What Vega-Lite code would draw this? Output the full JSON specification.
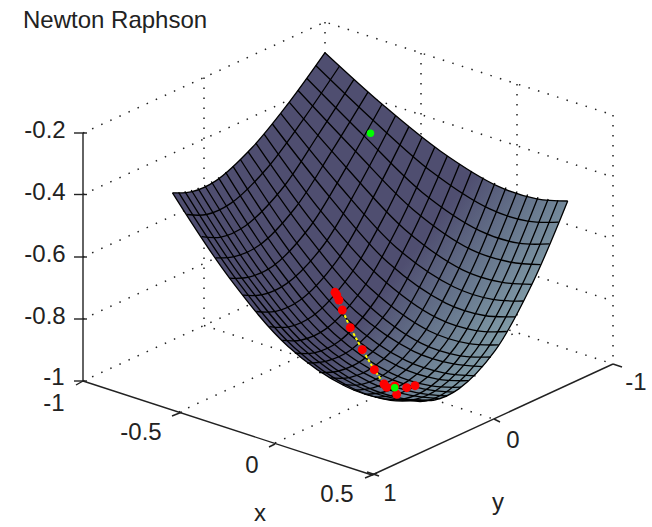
{"$schema":"https://vega.github.io/schema/vega-lite/v6.json","width":652,"height":527,"padding":0,"autosize":"none","background":"white","config":{"view":{"stroke":null}},"datasets":{"heading":[{"t":"Newton Raphson","u":23,"v":28}],"grid":[{"l":"z1","u":83,"v":133},{"l":"z1","u":325,"v":22},{"l":"z1","u":613,"v":115},{"l":"z2","u":83,"v":194.5},{"l":"z2","u":325,"v":83.5},{"l":"z2","u":613,"v":177},{"l":"z3","u":83,"v":257},{"l":"z3","u":325,"v":146},{"l":"z3","u":613,"v":239},{"l":"z4","u":83,"v":319},{"l":"z4","u":325,"v":208},{"l":"z4","u":613,"v":301},{"l":"v1","u":204,"v":77.5},{"l":"v1","u":204,"v":325},{"l":"v2","u":325,"v":22},{"l":"v2","u":325,"v":270},{"l":"v3","u":421,"v":53},{"l":"v3","u":421,"v":301},{"l":"v4","u":517,"v":84},{"l":"v4","u":517,"v":332},{"l":"v5","u":613,"v":115},{"l":"v5","u":613,"v":364},{"l":"f1","u":83,"v":381},{"l":"f1","u":325,"v":270},{"l":"f1","u":613,"v":364},{"l":"f2","u":179,"v":412},{"l":"f2","u":421,"v":301},{"l":"f3","u":275,"v":443},{"l":"f3","u":517,"v":332},{"l":"f4","u":204,"v":325.5},{"l":"f4","u":492,"v":418.5}],"axes":[{"l":"az","u":83,"v":133},{"l":"az","u":83,"v":381},{"l":"ax","u":83,"v":381},{"l":"ax","u":372,"v":475},{"l":"ay","u":372,"v":475},{"l":"ay","u":613,"v":364},{"l":"t1","u":74,"v":133},{"l":"t1","u":87,"v":133},{"l":"t2","u":74,"v":194.5},{"l":"t2","u":87,"v":194.5},{"l":"t3","u":74,"v":257},{"l":"t3","u":87,"v":257},{"l":"t4","u":74,"v":319},{"l":"t4","u":87,"v":319},{"l":"t5","u":74,"v":381},{"l":"t5","u":87,"v":381},{"l":"t6","u":76,"v":385},{"l":"t6","u":83,"v":381},{"l":"t7","u":172,"v":416},{"l":"t7","u":182,"v":412},{"l":"t8","u":269,"v":447},{"l":"t8","u":275,"v":444},{"l":"t9","u":365,"v":478},{"l":"t9","u":377,"v":473},{"l":"t10","u":367,"v":472},{"l":"t10","u":379,"v":476},{"l":"t11","u":494,"v":419},{"l":"t11","u":500,"v":422},{"l":"t12","u":613,"v":364},{"l":"t12","u":622,"v":367}],"labels":[{"t":"-0.2","u":45,"v":131},{"t":"-0.4","u":45,"v":193},{"t":"-0.6","u":45,"v":255},{"t":"-0.8","u":45,"v":317},{"t":"-1","u":54,"v":378},{"t":"-1","u":54,"v":404},{"t":"-0.5","u":141,"v":433},{"t":"0","u":252,"v":466},{"t":"0.5","u":337,"v":495},{"t":"1","u":390,"v":494},{"t":"0","u":513,"v":441},{"t":"-1","u":636,"v":383},{"t":"x","u":260,"v":514},{"t":"y","u":498,"v":503}],"skin":[{"u":325,"v":52.7},{"u":288.7,"v":102.9},{"u":252.4,"v":147.3},{"u":216.1,"v":180.6},{"u":191.9,"v":191.7},{"u":172.5,"v":192.8},{"u":172.5,"v":192.8},{"u":230.3,"v":279.1},{"u":288.1,"v":346.4},{"u":345.8,"v":386.5},{"u":384.4,"v":398.9},{"u":415.2,"v":399.7},{"u":415.2,"v":399.7},{"u":434.6,"v":400},{"u":458.8,"v":388.9},{"u":495.1,"v":350.7},{"u":531.4,"v":285.4},{"u":567.7,"v":201},{"u":567.7,"v":201},{"u":536.9,"v":198.8},{"u":498.3,"v":186.4},{"u":440.6,"v":151.2},{"u":382.8,"v":104.8},{"u":325,"v":52.7},{"u":325,"v":52.7}],"mesh":[
{"l":"a0","u":325,"v":52.7},{"l":"a0","u":288.7,"v":102.9},{"l":"a0","u":252.4,"v":147.3},{"l":"a0","u":216.1,"v":180.6},{"l":"a0","u":191.9,"v":191.7},{"l":"a0","u":172.5,"v":192.8},
{"l":"a1","u":339.6,"v":66},{"l":"a1","u":303.3,"v":119.3},{"l":"a1","u":267,"v":168.2},{"l":"a1","u":230.7,"v":203.4},{"l":"a1","u":206.5,"v":214.5},{"l":"a1","u":187.1,"v":214.5},
{"l":"a2","u":354.1,"v":79.2},{"l":"a2","u":317.8,"v":135.5},{"l":"a2","u":281.5,"v":189.5},{"l":"a2","u":245.2,"v":226},{"l":"a2","u":221,"v":237.1},{"l":"a2","u":201.6,"v":236.6},
{"l":"a3","u":368.1,"v":91.8},{"l":"a3","u":331.8,"v":151.1},{"l":"a3","u":295.5,"v":207.5},{"l":"a3","u":259.2,"v":245.3},{"l":"a3","u":235,"v":256.4},{"l":"a3","u":215.6,"v":257.9},
{"l":"a4","u":382,"v":104.2},{"l":"a4","u":345.7,"v":168.3},{"l":"a4","u":309.4,"v":227.5},{"l":"a4","u":273.1,"v":266},{"l":"a4","u":248.9,"v":277.1},{"l":"a4","u":229.5,"v":278.1},
{"l":"a5","u":395.5,"v":115.8},{"l":"a5","u":359.2,"v":185},{"l":"a5","u":322.9,"v":246},{"l":"a5","u":286.6,"v":283.6},{"l":"a5","u":262.4,"v":294.7},{"l":"a5","u":243,"v":295.2},
{"l":"a6","u":408.8,"v":126.9},{"l":"a6","u":372.5,"v":198.6},{"l":"a6","u":336.2,"v":261.6},{"l":"a6","u":299.9,"v":300.2},{"l":"a6","u":275.7,"v":311.3},{"l":"a6","u":256.3,"v":311.5},
{"l":"a7","u":421.9,"v":137.4},{"l":"a7","u":385.6,"v":213.8},{"l":"a7","u":349.3,"v":276.1},{"l":"a7","u":313,"v":315.7},{"l":"a7","u":288.8,"v":326.8},{"l":"a7","u":269.4,"v":326.6},
{"l":"a8","u":434.8,"v":147.1},{"l":"a8","u":398.5,"v":225.5},{"l":"a8","u":362.2,"v":289.4},{"l":"a8","u":325.9,"v":328.9},{"l":"a8","u":301.7,"v":340},{"l":"a8","u":282.3,"v":340.4},
{"l":"a9","u":447.3,"v":156},{"l":"a9","u":411,"v":236.1},{"l":"a9","u":374.7,"v":301.5},{"l":"a9","u":338.4,"v":341.8},{"l":"a9","u":314.2,"v":352.9},{"l":"a9","u":294.8,"v":353},
{"l":"a10","u":459.6,"v":164},{"l":"a10","u":423.3,"v":247.5},{"l":"a10","u":387,"v":312.2},{"l":"a10","u":350.7,"v":350},{"l":"a10","u":326.5,"v":361.1},{"l":"a10","u":307.1,"v":363},
{"l":"a11","u":471.6,"v":171.1},{"l":"a11","u":435.3,"v":255.9},{"l":"a11","u":399,"v":321.5},{"l":"a11","u":362.7,"v":359.9},{"l":"a11","u":338.5,"v":371},{"l":"a11","u":319.1,"v":372.6},
{"l":"a12","u":483.3,"v":177.5},{"l":"a12","u":447,"v":263.1},{"l":"a12","u":410.7,"v":328.5},{"l":"a12","u":374.4,"v":366.3},{"l":"a12","u":350.2,"v":377.4},{"l":"a12","u":330.8,"v":377.9},
{"l":"a13","u":494.9,"v":183},{"l":"a13","u":458.6,"v":269.3},{"l":"a13","u":422.3,"v":335.2},{"l":"a13","u":386,"v":373.2},{"l":"a13","u":361.8,"v":384.3},{"l":"a13","u":342.4,"v":384.7},
{"l":"a14","u":506,"v":187.6},{"l":"a14","u":469.7,"v":274.3},{"l":"a14","u":433.4,"v":340.5},{"l":"a14","u":397.1,"v":376.7},{"l":"a14","u":372.9,"v":387.8},{"l":"a14","u":353.5,"v":390.1},
{"l":"a15","u":517,"v":191.5},{"l":"a15","u":480.7,"v":278.3},{"l":"a15","u":444.4,"v":344.6},{"l":"a15","u":408.1,"v":380.9},{"l":"a15","u":383.9,"v":392},{"l":"a15","u":364.5,"v":394.3},
{"l":"a16","u":527.6,"v":194.6},{"l":"a16","u":491.3,"v":281.3},{"l":"a16","u":455,"v":347.5},{"l":"a16","u":418.7,"v":383.8},{"l":"a16","u":394.5,"v":394.9},{"l":"a16","u":375.1,"v":397.2},
{"l":"a17","u":538,"v":197.2},{"l":"a17","u":501.7,"v":283.5},{"l":"a17","u":465.4,"v":349.5},{"l":"a17","u":429.1,"v":387.6},{"l":"a17","u":404.9,"v":398.7},{"l":"a17","u":385.5,"v":399.1},
{"l":"a18","u":548.2,"v":199},{"l":"a18","u":511.9,"v":284.9},{"l":"a18","u":475.6,"v":350.4},{"l":"a18","u":439.3,"v":388.3},{"l":"a18","u":415.1,"v":399.4},{"l":"a18","u":395.7,"v":399.9},
{"l":"a19","u":558,"v":200.2},{"l":"a19","u":521.7,"v":285.5},{"l":"a19","u":485.4,"v":351.4},{"l":"a19","u":449.1,"v":390},{"l":"a19","u":424.9,"v":401.1},{"l":"a19","u":405.5,"v":399.7},
{"l":"a20","u":567.7,"v":201},{"l":"a20","u":531.4,"v":285.4},{"l":"a20","u":495.1,"v":350.7},{"l":"a20","u":458.8,"v":388.9},{"l":"a20","u":434.6,"v":400},{"l":"a20","u":415.2,"v":399.7},
{"l":"b0","u":325,"v":52.7},{"l":"b0","u":382.8,"v":104.8},{"l":"b0","u":440.6,"v":151.2},{"l":"b0","u":498.3,"v":186.4},{"l":"b0","u":536.9,"v":198.8},{"l":"b0","u":567.7,"v":201},
{"l":"b1","u":315.8,"v":65.5},{"l":"b1","u":373.6,"v":120.7},{"l":"b1","u":431.4,"v":171.6},{"l":"b1","u":489.1,"v":208.7},{"l":"b1","u":527.7,"v":221.1},{"l":"b1","u":558.5,"v":222.2},
{"l":"b2","u":306.7,"v":78.2},{"l":"b2","u":364.5,"v":136.4},{"l":"b2","u":422.3,"v":192.4},{"l":"b2","u":480,"v":230.8},{"l":"b2","u":518.6,"v":243.2},{"l":"b2","u":549.4,"v":243.8},
{"l":"b3","u":297.9,"v":90.3},{"l":"b3","u":355.7,"v":151.5},{"l":"b3","u":413.5,"v":209.9},{"l":"b3","u":471.2,"v":249.6},{"l":"b3","u":509.8,"v":262},{"l":"b3","u":540.6,"v":264.6},
{"l":"b4","u":289.2,"v":102.2},{"l":"b4","u":347,"v":168.2},{"l":"b4","u":404.8,"v":229.4},{"l":"b4","u":462.5,"v":269.8},{"l":"b4","u":501.1,"v":282.2},{"l":"b4","u":531.9,"v":284.3},
{"l":"b5","u":280.7,"v":113.4},{"l":"b5","u":338.5,"v":184.5},{"l":"b5","u":396.3,"v":247.5},{"l":"b5","u":454,"v":287},{"l":"b5","u":492.6,"v":299.4},{"l":"b5","u":523.4,"v":301},
{"l":"b6","u":272.4,"v":124},{"l":"b6","u":330.2,"v":197.6},{"l":"b6","u":388,"v":262.6},{"l":"b6","u":445.7,"v":303.1},{"l":"b6","u":484.3,"v":315.5},{"l":"b6","u":515.1,"v":316.8},
{"l":"b7","u":264.1,"v":134.1},{"l":"b7","u":321.9,"v":212.4},{"l":"b7","u":379.7,"v":276.7},{"l":"b7","u":437.4,"v":318.2},{"l":"b7","u":476,"v":330.6},{"l":"b7","u":506.8,"v":331.5},
{"l":"b8","u":256,"v":143.4},{"l":"b8","u":313.8,"v":223.7},{"l":"b8","u":371.6,"v":289.6},{"l":"b8","u":429.3,"v":331},{"l":"b8","u":467.9,"v":343.4},{"l":"b8","u":498.7,"v":344.9},
{"l":"b9","u":248.2,"v":151.8},{"l":"b9","u":306,"v":233.8},{"l":"b9","u":363.8,"v":301.2},{"l":"b9","u":421.5,"v":343.4},{"l":"b9","u":460.1,"v":355.8},{"l":"b9","u":490.9,"v":357},
{"l":"b10","u":240.4,"v":159.5},{"l":"b10","u":298.2,"v":244.9},{"l":"b10","u":356,"v":311.6},{"l":"b10","u":413.7,"v":351.3},{"l":"b10","u":452.3,"v":363.7},{"l":"b10","u":483.1,"v":366.7},
{"l":"b11","u":232.9,"v":166.1},{"l":"b11","u":290.7,"v":252.8},{"l":"b11","u":348.5,"v":320.4},{"l":"b11","u":406.2,"v":360.7},{"l":"b11","u":444.8,"v":373.1},{"l":"b11","u":475.6,"v":375.8},
{"l":"b12","u":225.5,"v":172.1},{"l":"b12","u":283.3,"v":259.6},{"l":"b12","u":341.1,"v":327},{"l":"b12","u":398.8,"v":366.7},{"l":"b12","u":437.4,"v":379.1},{"l":"b12","u":468.2,"v":380.7},
{"l":"b13","u":218.3,"v":177.3},{"l":"b13","u":276.1,"v":265.5},{"l":"b13","u":333.9,"v":333.4},{"l":"b13","u":391.6,"v":373.3},{"l":"b13","u":430.2,"v":385.7},{"l":"b13","u":461,"v":387.2},
{"l":"b14","u":211.3,"v":181.5},{"l":"b14","u":269.1,"v":270.1},{"l":"b14","u":326.9,"v":338.3},{"l":"b14","u":384.6,"v":376.4},{"l":"b14","u":423.2,"v":388.8},{"l":"b14","u":454,"v":392.2},
{"l":"b15","u":204.4,"v":185},{"l":"b15","u":262.2,"v":273.7},{"l":"b15","u":320,"v":342},{"l":"b15","u":377.7,"v":380.2},{"l":"b15","u":416.3,"v":392.6},{"l":"b15","u":447.1,"v":396},
{"l":"b16","u":197.7,"v":187.8},{"l":"b16","u":255.5,"v":276.4},{"l":"b16","u":313.3,"v":344.6},{"l":"b16","u":371,"v":382.8},{"l":"b16","u":409.6,"v":395.2},{"l":"b16","u":440.4,"v":398.6},
{"l":"b17","u":191.2,"v":190},{"l":"b17","u":249,"v":278.2},{"l":"b17","u":306.8,"v":346.2},{"l":"b17","u":364.5,"v":386.2},{"l":"b17","u":403.1,"v":398.6},{"l":"b17","u":433.9,"v":400.1},
{"l":"b18","u":184.8,"v":191.4},{"l":"b18","u":242.6,"v":279.2},{"l":"b18","u":300.4,"v":346.7},{"l":"b18","u":358.1,"v":386.5},{"l":"b18","u":396.7,"v":398.9},{"l":"b18","u":427.5,"v":400.5},
{"l":"b19","u":178.6,"v":192.4},{"l":"b19","u":236.4,"v":279.6},{"l":"b19","u":294.2,"v":347.5},{"l":"b19","u":351.9,"v":388},{"l":"b19","u":390.5,"v":400.4},{"l":"b19","u":421.3,"v":400.1},
{"l":"b20","u":172.5,"v":192.8},{"l":"b20","u":230.3,"v":279.1},{"l":"b20","u":288.1,"v":346.4},{"l":"b20","u":345.8,"v":386.5},{"l":"b20","u":384.4,"v":398.9},{"l":"b20","u":415.2,"v":399.7}
],"path":[{"u":335,"v":292.3},{"u":336.7,"v":295},{"u":339,"v":300},{"u":342.3,"v":310},{"u":350.3,"v":327.7},{"u":362.3,"v":349.7},{"u":374.3,"v":369.7},{"u":384,"v":384},{"u":386.7,"v":387.3},{"u":394.7,"v":386},{"u":396.7,"v":394.3},{"u":406.7,"v":387.7},{"u":415,"v":385.7}],"start":[{"u":370.5,"v":133.3},{"u":394.7,"v":387.7}]},
"encoding":{"x":{"field":"u","type":"quantitative","scale":{"domain":[0,652],"nice":false,"zero":false},"axis":null},"y":{"field":"v","type":"quantitative","scale":{"domain":[527,0],"nice":false,"zero":false},"axis":null}},
"layer":[
{"data":{"name":"grid"},"mark":{"type":"line","color":"#222222","strokeWidth":1.5,"strokeDash":[1.5,8.5],"clip":false},"encoding":{"detail":{"field":"l"},"order":{"value":null}}},
{"data":{"name":"axes"},"mark":{"type":"line","color":"#222222","strokeWidth":1.4},"encoding":{"detail":{"field":"l"},"order":{"value":null}}},
{"data":{"name":"heading"},"mark":{"type":"text","font":"Liberation Sans","fontSize":24,"color":"#222222","align":"left","baseline":"alphabetic"},"encoding":{"text":{"field":"t"}}},
{"data":{"name":"labels"},"mark":{"type":"text","font":"Liberation Sans","fontSize":24,"color":"#222222","align":"center","baseline":"middle"},"encoding":{"text":{"field":"t"}}},
{"data":{"name":"skin"},"mark":{"type":"line","interpolate":"catmull-rom","stroke":null,"fill":{"gradient":"linear","x1":0.55,"y1":0.66,"x2":0.817,"y2":0.84,"stops":[{"offset":0,"color":"#4f4e70"},{"offset":0.5,"color":"#66758c"},{"offset":1,"color":"#7f9aa6"}]}},"encoding":{"order":{"value":null}}},
{"data":{"name":"mesh"},"mark":{"type":"line","interpolate":"catmull-rom","color":"#000000","strokeWidth":1.3},"encoding":{"detail":{"field":"l"},"order":{"value":null}}},
{"data":{"name":"path"},"transform":[{"filter":"datum.u < 395"}],"mark":{"type":"line","color":"#ffff00","strokeWidth":2,"strokeDash":[3,2]},"encoding":{"order":{"value":null}}},
{"data":{"name":"path"},"mark":{"type":"point","filled":true,"color":"#ff0000","opacity":1,"size":80}},
{"data":{"name":"start"},"mark":{"type":"point","filled":true,"color":"#00ff00","opacity":1,"size":55}}
]}
